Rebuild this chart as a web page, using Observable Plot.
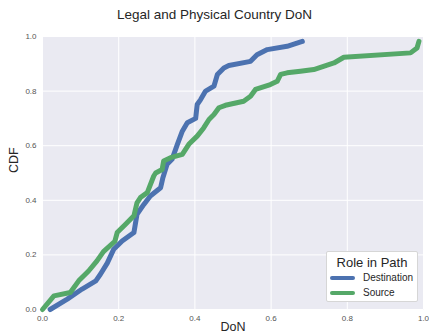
<!DOCTYPE html>
<html>
<head>
<meta charset="utf-8">
<script src="https://cdn.jsdelivr.net/npm/d3@7"></script>
<script src="https://cdn.jsdelivr.net/npm/@observablehq/plot@0.6"></script>
<style>
  html, body { margin: 0; padding: 0; background: #fff; }
  #wrap { position: relative; width: 429px; height: 335px; font-family: "Liberation Sans", Arial, sans-serif; color: #262626; }
  #title { position: absolute; left: 0; width: 429px; top: 7px; text-align: center; font-size: 13.5px; }
  #legend { position: absolute; left: 326px; top: 251px; width: 92px; height: 51px; background: #fff; border: 1px solid #d6d6d6; border-radius: 2px; box-sizing: border-box; }
  #legend .lt { position: absolute; left: 0; width: 100%; top: 3px; text-align: center; font-size: 13px; }
  #legend .row { position: absolute; left: 3px; font-size: 10px; display: flex; align-items: center; }
  #legend .sw { width: 25px; height: 4px; border-radius: 2px; margin-right: 8px; }
</style>
</head>
<body>
<div id="wrap">
  <div id="chart"></div>
  <div id="title">Legal and Physical Country DoN</div>
  <div id="legend"></div>
</div>
<script>
const seriesNames = ["Destination", "Source"];
const seriesColors = ["#4C72B0", "#55A868"];

const destX = [0.02,0.065,0.104,0.14,0.152,0.17,0.187,0.209,0.24,0.248,0.266,0.283,0.31,0.316,0.327,0.34,0.354,0.367,0.38,0.402,0.406,0.415,0.428,0.45,0.459,0.476,0.489,0.546,0.563,0.59,0.642,0.682];
const destY = [0,0.038,0.075,0.105,0.129,0.17,0.221,0.251,0.282,0.349,0.385,0.416,0.446,0.483,0.532,0.55,0.605,0.653,0.684,0.7,0.751,0.769,0.8,0.818,0.861,0.885,0.894,0.909,0.933,0.952,0.964,0.982];

const srcX = [0,0.03,0.073,0.095,0.121,0.143,0.16,0.19,0.196,0.218,0.24,0.248,0.257,0.275,0.292,0.297,0.314,0.318,0.336,0.367,0.384,0.406,0.423,0.437,0.45,0.463,0.48,0.528,0.546,0.559,0.598,0.616,0.625,0.642,0.677,0.712,0.765,0.791,0.966,0.983,0.988];
const srcY = [0,0.05,0.062,0.105,0.141,0.178,0.212,0.25,0.282,0.312,0.343,0.391,0.41,0.428,0.489,0.5,0.513,0.544,0.556,0.568,0.605,0.635,0.665,0.696,0.714,0.739,0.748,0.763,0.781,0.806,0.824,0.836,0.861,0.867,0.873,0.879,0.903,0.924,0.94,0.958,0.982];

const xTicks = [0, 0.2, 0.4, 0.6, 0.8, 1.0];
const yTicks = [0, 0.2, 0.4, 0.6, 0.8, 1.0];

const data = [
  ...destX.map((x, i) => ({role: seriesNames[0], x, y: destY[i]})),
  ...srcX.map((x, i) => ({role: seriesNames[1], x, y: srcY[i]}))
];

const fmt = d3.format(".1f");

const chart = Plot.plot({
  width: 429,
  height: 335,
  marginLeft: 42,
  marginRight: 6,
  marginTop: 36,
  marginBottom: 26,
  style: {fontFamily: "'Liberation Sans', Arial, sans-serif", background: "transparent"},
  x: {domain: [0, 1], ticks: xTicks},
  y: {domain: [0, 1], ticks: yTicks},
  color: {domain: seriesNames, range: seriesColors},
  marks: [
    Plot.frame({fill: "#EAEAF2", stroke: null}),
    Plot.gridX(xTicks, {stroke: "#fff", strokeOpacity: 1, strokeWidth: 1}),
    Plot.gridY(yTicks, {stroke: "#fff", strokeOpacity: 1, strokeWidth: 1}),
    Plot.axisX(xTicks, {tickSize: 0, tickPadding: 6, tickFormat: fmt, fontSize: 8, fill: "#555", label: null}),
    Plot.axisY(yTicks, {tickSize: 0, tickPadding: 6, tickFormat: fmt, fontSize: 8, fill: "#555", label: null}),
    Plot.line(data, {x: "x", y: "y", z: "role", stroke: "role", strokeWidth: 5, strokeLinecap: "round", strokeLinejoin: "round"}),
    Plot.text(["DoN"], {frameAnchor: "bottom", dy: 21, fontSize: 12.5, fill: "#262626"}),
    Plot.text(["CDF"], {frameAnchor: "left", dx: -29, rotate: -90, fontSize: 12.5, fill: "#262626"})
  ]
});
document.getElementById("chart").appendChild(chart);

const legend = document.getElementById("legend");
legend.innerHTML = '<div class="lt">Role in Path</div>' + seriesNames.map((n, i) =>
  `<div class="row" style="top:${20 + i * 15}px"><div class="sw" style="background:${seriesColors[i]}"></div>${n}</div>`
).join("");
</script>
</body>
</html>
